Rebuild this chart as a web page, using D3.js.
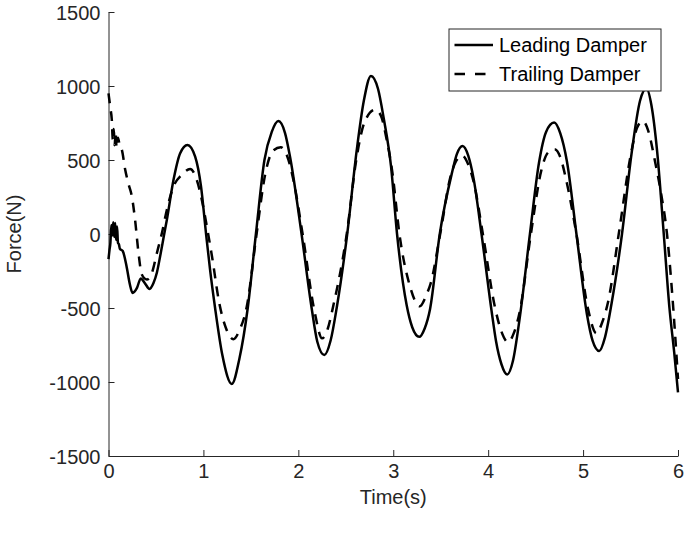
<!DOCTYPE html>
<html>
<head>
<meta charset="utf-8">
<script src="https://cdn.jsdelivr.net/npm/d3@7"></script>
<style>
  html, body { margin: 0; padding: 0; background: #fff; }
  svg { display: block; font-family: "Liberation Sans", Arial, Helvetica, sans-serif; }
</style>
</head>
<body>
<svg id="chart" width="685" height="533"></svg>
<script>
// Damper force histories (N) against time (s)
const leadingTime = [0,0.01,0.02,0.03,0.04,0.05,0.06,0.07,0.08,0.09,0.1,0.11,0.12,0.15,0.19,0.225,0.253,0.30,0.34,0.386,0.432,0.474,0.51,0.544,0.587,0.615,0.685,0.755,0.832,0.913,0.975,1.028,1.07,1.123,1.2,1.299,1.38,1.467,1.553,1.643,1.72,1.79,1.86,1.913,2.034,2.14,2.2,2.274,2.34,2.404,2.515,2.614,2.69,2.765,2.84,2.9,2.976,3.04,3.141,3.2,3.274,3.33,3.388,3.49,3.616,3.67,3.73,3.79,3.848,3.93,4.036,4.0825,4.14,4.20,4.26,4.334,4.44,4.535,4.61,4.695,4.76,4.83,4.93,5.04,5.1,5.17,5.23,5.3,5.41,5.51,5.6,5.667,5.72,5.78,5.85,5.91,5.96,6.0];
const leadingForce = [-170,-110,-60,60,-10,80,-20,75,-40,50,-60,-70,-100,-115,-218,-340,-398,-364,-300,-335,-371,-331,-260,-151,0,96,366,546,602,523,320,0,-241,-500,-820,-1013,-840,-500,0,500,690,763,682,520,0,-500,-728,-818,-720,-500,0,560,900,1068,980,780,460,0,-480,-630,-695,-640,-506,0,406,540,595,530,369,0,-520,-723,-880,-949,-860,-560,0,480,690,753,680,490,0,-540,-720,-790,-700,-470,0,540,900,985,870,560,0,-500,-800,-1070];

const trailingTime = [0,0.02,0.035,0.045,0.055,0.065,0.075,0.085,0.1,0.12,0.14,0.176,0.21,0.246,0.28,0.316,0.351,0.404,0.457,0.51,0.563,0.615,0.685,0.773,0.86,0.93,0.98,1.05,1.09,1.168,1.24,1.316,1.38,1.457,1.56,1.65,1.73,1.815,1.88,1.95,2.045,2.17,2.25,2.31,2.37,2.51,2.61,2.7,2.81,2.87,2.93,2.99,3.065,3.17,3.28,3.35,3.392,3.5,3.6,3.66,3.727,3.79,3.848,3.944,4.07,4.14,4.21,4.27,4.334,4.45,4.56,4.63,4.70,4.77,4.81,4.93,5.05,5.14,5.2,5.2625,5.385,5.5075,5.57,5.63,5.69,5.755,5.82,5.884,5.95,6.0];
const trailingForce = [950,850,770,640,710,600,690,580,650,590,570,434,340,254,96,-128,-274,-308,-263,-128,7,164,321,400,440,366,240,0,-150,-470,-640,-711,-650,-490,0,400,560,586,530,360,0,-520,-705,-640,-480,0,500,760,840,800,640,420,0,-340,-488,-410,-339,20,380,490,530,470,350,0,-490,-660,-731,-670,-520,0,430,550,573,500,400,0,-500,-671,-600,-461,40,553,720,763,690,500,280,0,-500,-980];

const xTicks = [0, 1, 2, 3, 4, 5, 6];
const yTicks = [-1500, -1000, -500, 0, 500, 1000, 1500];
const seriesNames = ["Leading Damper", "Trailing Damper"];

const ink = "#262626";
const svg = d3.select("#chart");
const margin = { left: 108.5, right: 7, top: 12, bottom: 77 };
const W = 685, H = 533;

const x = d3.scaleLinear().domain([0, 6]).range([margin.left, W - margin.right]);
const y = d3.scaleLinear().domain([-1500, 1500]).range([H - margin.bottom, margin.top]);

// plain hyphen for negative tick labels
const fmt = d => String(d);

// axes (left and bottom only, ticks pointing inward)
const xAxis = svg.append("g")
  .attr("transform", `translate(0,${y(-1500)})`)
  .call(d3.axisBottom(x).tickValues(xTicks).tickFormat(fmt).tickSizeInner(-6).tickSizeOuter(0).tickPadding(8));
const yAxis = svg.append("g")
  .attr("transform", `translate(${x(0)},0)`)
  .call(d3.axisLeft(y).tickValues(yTicks).tickFormat(fmt).tickSizeInner(-6).tickSizeOuter(0).tickPadding(8));

[xAxis, yAxis].forEach(g => {
  g.select(".domain").attr("stroke", ink).attr("stroke-width", 1);
  g.selectAll(".tick line").attr("stroke", ink).attr("stroke-width", 1);
  g.selectAll(".tick text").attr("fill", ink).style("font-size", "20px")
    .style("font-family", "'Liberation Sans', Arial, Helvetica, sans-serif");
});
yAxis.selectAll(".tick text").attr("dy", "0.36em");

// axis titles
svg.append("text")
  .attr("x", x(3)).attr("y", 504)
  .attr("text-anchor", "middle").attr("fill", ink).style("font-size", "20px")
  .text("Time(s)");
svg.append("text")
  .attr("transform", `translate(21,${y(0)}) rotate(-90)`)
  .attr("text-anchor", "middle").attr("fill", ink).style("font-size", "20px")
  .text("Force(N)");

// curves
const line = d3.line()
  .x(d => x(d[0])).y(d => y(d[1]))
  .curve(d3.curveMonotoneX);

const leading = leadingTime.map((t, i) => [t, leadingForce[i]]);
const trailing = trailingTime.map((t, i) => [t, trailingForce[i]]);

svg.append("path").datum(trailing)
  .attr("fill", "none").attr("stroke", "#000").attr("stroke-width", 2.5)
  .attr("stroke-dasharray", "10,8").attr("d", line);
svg.append("path").datum(leading)
  .attr("fill", "none").attr("stroke", "#000").attr("stroke-width", 2.5)
  .attr("d", line);

// legend
const lg = svg.append("g").attr("transform", "translate(449,29)");
lg.append("rect").attr("width", 212).attr("height", 62)
  .attr("fill", "#fff").attr("stroke", ink).attr("stroke-width", 1);
const dashes = [null, "10.5,10"];
seriesNames.forEach((name, i) => {
  const cy = 16 + i * 29;
  lg.append("line").attr("x1", 5.5).attr("x2", 44).attr("y1", cy).attr("y2", cy)
    .attr("stroke", "#000").attr("stroke-width", 2.5)
    .attr("stroke-dasharray", dashes[i]);
  lg.append("text").attr("x", 50).attr("y", cy).attr("dy", "0.36em")
    .attr("fill", "#000").style("font-size", "20px").text(name);
});
</script>
</body>
</html>
